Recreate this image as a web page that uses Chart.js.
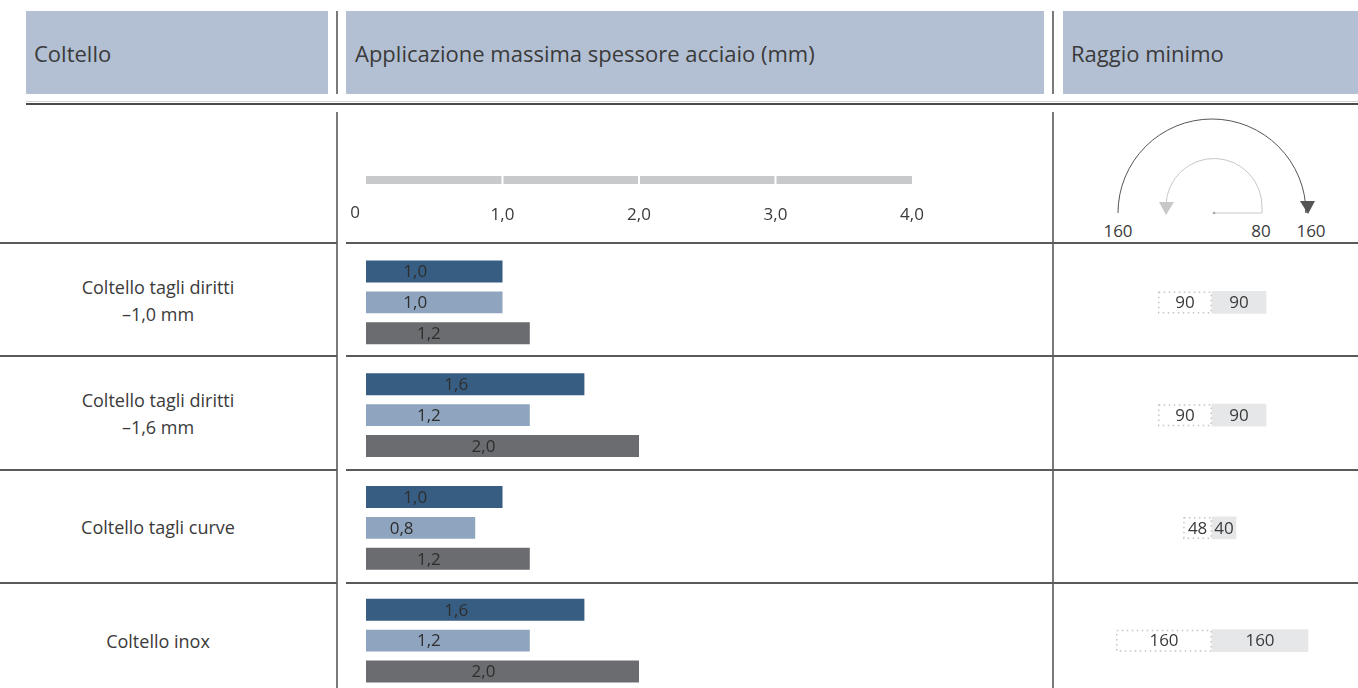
<!DOCTYPE html>
<html>
<head>
<meta charset="utf-8">
<script src="https://cdn.jsdelivr.net/npm/chart.js@4"></script>
<style>
    body { margin: 0; width: 1358px; height: 688px; overflow: hidden; position: relative; background: #fff; font-family: "Open Sans", sans-serif; color: #3a3a3a; }
    .abs { position: absolute; }
    .testa { position: absolute; top: 11px; height: 83px; background: #b3c0d3; font-size: 22px; line-height: 84px; padding-left: 8px; box-sizing: border-box; }
    .vline { position: absolute; width: 2px; background: #7a7a7a; }
    .hline { position: absolute; height: 1.5px; background: #5a5a5a; }
    .nome { position: absolute; left: 0; width: 316px; text-align: center; font-size: 18px; line-height: 27px; color: #3a3a3a; }
</style>
</head>
<body>

<div class="testa" style="left:26px;width:302px;">Coltello</div>
<div class="testa" style="left:346px;width:698px;padding-left:9px;">Applicazione massima spessore acciaio (mm)</div>
<div class="testa" style="left:1063px;width:295px;">Raggio minimo</div>
<div class="vline" style="left:336px;top:11px;height:83px;"></div>
<div class="vline" style="left:1052px;top:11px;height:83px;"></div>
<div class="hline" style="left:26px;top:101px;width:1332px;height:1px;background:#d4d4d4;"></div>
<div class="hline" style="left:26px;top:103px;width:1332px;background:#4a4a4a;"></div>
<div class="vline" style="left:336px;top:112px;height:576px;width:1.5px;"></div>
<div class="vline" style="left:1052px;top:112px;height:576px;width:1.5px;"></div>
<div id="righe"></div>
<div id="nomi"></div>

<svg class="abs" style="left:1063px;top:105px;" width="295" height="140">
    <path d="M 55 108 A 94 94 0 0 1 243 108 L 243 96" fill="none" stroke="#555" stroke-width="1"/>
    <polygon points="237,96 252,96 245,109" fill="#555"/>
    <path d="M 199 108 L 199 103 A 48 48 0 0 0 103 100" fill="none" stroke="#c8c8c8" stroke-width="1"/>
    <polygon points="96,97 111,97 103,110" fill="#c8c8c8"/>
    <line x1="151" y1="108" x2="199" y2="108" stroke="#c8c8c8" stroke-width="1"/>
    <circle cx="151" cy="108" r="1.3" fill="#aaa"/>
    <g font-family="Open Sans" font-size="17" fill="#3a3a3a" text-anchor="middle">
        <text x="55" y="132">160</text>
        <text x="198" y="132">80</text>
        <text x="248" y="132">160</text>
    </g>
</svg>

<canvas id="graficoSpessore" class="abs" style="left:346px;top:112px;" width="698" height="588"></canvas>
<canvas id="graficoRaggio" class="abs" style="left:1063px;top:112px;" width="295" height="588"></canvas>

<script>
const coltelli = [
    ['Coltello tagli diritti', '–1,0 mm'],
    ['Coltello tagli diritti', '–1,6 mm'],
    ['Coltello tagli curve'],
    ['Coltello inox']
];
const spessoreBlu = [1.0, 1.6, 1.0, 1.6];
const spessoreAzzurro = [1.0, 1.2, 0.8, 1.2];
const spessoreGrigio = [1.2, 2.0, 1.2, 2.0];
const tickSpessore = [0, 1, 2, 3, 4];

const raggioTratteggio = [90, 90, 48, 160];
const raggioPieno = [90, 90, 40, 160];

const righeY = [242, 355, 469, 582];
const centriY = [301, 414, 527, 641];

// righe orizzontali e nomi dei coltelli
let htmlRighe = '';
for (const y of righeY) {
    htmlRighe += `<div class="hline" style="left:0;top:${y}px;width:337px;"></div>`;
    htmlRighe += `<div class="hline" style="left:346px;top:${y}px;width:707px;"></div>`;
    htmlRighe += `<div class="hline" style="left:1053px;top:${y}px;width:305px;"></div>`;
}
document.querySelector('#righe').innerHTML = htmlRighe;

let htmlNomi = '';
coltelli.forEach(function(righe, i) {
    const top = centriY[i] - righe.length * 27 / 2;
    htmlNomi += `<div class="nome" style="top:${top}px;">${righe.join('<br>')}</div>`;
});
document.querySelector('#nomi').innerHTML = htmlNomi;

function virgola(v) {
    return v === 0 ? '0' : v.toFixed(1).replace('.', ',');
}

// asse grigio in alto con le etichette
const pluginAsse = {
    id: 'asse',
    afterDraw: function(chart) {
        const ctx = chart.ctx;
        const x = chart.scales.x;
        ctx.save();
        ctx.fillStyle = '#c8c9cb';
        ctx.fillRect(x.left, 64, x.right - x.left, 8);
        ctx.font = '17px "Open Sans"';
        ctx.fillStyle = '#3a3a3a';
        ctx.textBaseline = 'middle';
        for (const t of tickSpessore) {
            const px = x.getPixelForValue(t);
            if (t > 0 && t < tickSpessore[tickSpessore.length - 1]) {
                ctx.fillStyle = '#ffffff';
                ctx.fillRect(px - 1, 64, 2, 8);
                ctx.fillStyle = '#3a3a3a';
            }
            if (t === 0) {
                ctx.textAlign = 'right';
                ctx.fillText(virgola(t), px - 6, 101);
            } else {
                ctx.textAlign = 'center';
                ctx.fillText(virgola(t), px, 103);
            }
        }
        // valori dentro le barre
        ctx.fillStyle = '#2e2e2e';
        ctx.textAlign = 'center';
        chart.data.datasets.forEach(function(ds, d) {
            chart.getDatasetMeta(d).data.forEach(function(bar, i) {
                const p = bar.getProps(['x', 'y', 'base'], true);
                ctx.fillText(virgola(ds.data[i]), (p.x + p.base) / 2 - 19, p.y + 1);
            });
        });
        ctx.restore();
    }
};

new Chart(document.querySelector('#graficoSpessore'), {
    type: 'bar',
    data: {
        labels: coltelli.map(function(c) { return c.join(' '); }),
        datasets: [
            { data: spessoreBlu, backgroundColor: '#375d82' },
            { data: spessoreAzzurro, backgroundColor: '#8fa4be' },
            { data: spessoreGrigio, backgroundColor: '#6b6c70' }
        ]
    },
    options: {
        indexAxis: 'y',
        responsive: false,
        animation: false,
        devicePixelRatio: 1,
        layout: { padding: { left: 20, right: 132, top: 134, bottom: 3 } },
        datasets: { bar: { categoryPercentage: 0.823, barPercentage: 0.71 } },
        scales: {
            x: { display: false, min: 0, max: 4, ticks: { stepSize: 1 } },
            y: { display: false }
        },
        plugins: { legend: { display: false }, tooltip: { enabled: false } }
    },
    plugins: [pluginAsse]
});

// bordo puntinato e valori del raggio
const pluginRaggio = {
    id: 'raggio',
    afterDraw: function(chart) {
        const ctx = chart.ctx;
        ctx.save();
        ctx.strokeStyle = '#c4c4c4';
        ctx.lineWidth = 1.5;
        ctx.setLineDash([1.5, 3.5]);
        chart.getDatasetMeta(0).data.forEach(function(bar) {
            const p = bar.getProps(['x', 'y', 'base', 'height'], true);
            ctx.strokeRect(p.x + 0.75, p.y - p.height / 2 + 0.75, p.base - p.x - 1.5, p.height - 1.5);
        });
        ctx.setLineDash([]);
        ctx.font = '17px "Open Sans"';
        ctx.fillStyle = '#3a3a3a';
        ctx.textAlign = 'center';
        ctx.textBaseline = 'middle';
        chart.data.datasets.forEach(function(ds, d) {
            chart.getDatasetMeta(d).data.forEach(function(bar, i) {
                const p = bar.getProps(['x', 'y', 'base'], true);
                ctx.fillText(String(Math.abs(ds.data[i])), (p.x + p.base) / 2, p.y + 1);
            });
        });
        ctx.restore();
    }
};

new Chart(document.querySelector('#graficoRaggio'), {
    type: 'bar',
    data: {
        labels: coltelli.map(function(c) { return c.join(' '); }),
        datasets: [
            { data: raggioTratteggio.map(function(v) { return -v; }), backgroundColor: 'rgba(0,0,0,0)' },
            { data: raggioPieno, backgroundColor: '#e6e7e8' }
        ]
    },
    options: {
        indexAxis: 'y',
        responsive: false,
        animation: false,
        devicePixelRatio: 1,
        layout: { padding: { left: 47, right: 44, top: 134, bottom: 3 } },
        datasets: { bar: { barThickness: 22 } },
        scales: {
            x: { display: false, stacked: true, min: -170, max: 170 },
            y: { display: false, stacked: true }
        },
        plugins: { legend: { display: false }, tooltip: { enabled: false } }
    },
    plugins: [pluginRaggio]
});
</script>
</body>
</html>
